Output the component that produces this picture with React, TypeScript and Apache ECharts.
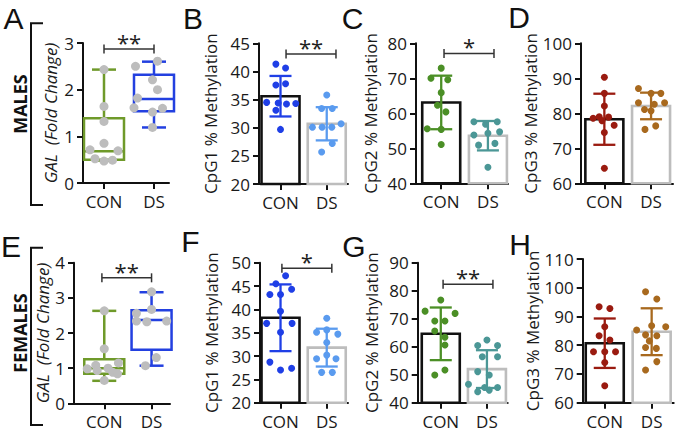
import React, { useEffect, useRef } from 'react';
import * as echarts from 'echarts';

const groups = ['CON', 'DS'];
const FONT = '"Open Sans", "Noto Sans", sans-serif';
const LETTER_FONT = '"Liberation Sans", Arial, sans-serif';

// ---------- A: males, GAL fold change (box: min, Q1, median, Q3, max) ----------
const maleGalConBox = [0.48, 0.5, 0.68, 1.39, 2.43];
const maleGalDsBox = [1.19, 1.54, 1.8, 2.32, 2.6];
const maleGalConPts = [2.43, 1.64, 1.32, 0.85, 0.71, 0.69, 0.52, 0.47, 0.49];
const maleGalConJit = [0, 0, 0, 0, -0.28, 0.28, -0.18, 0, 0.17];
const maleGalDsPts = [2.61, 2.5, 2.21, 2.0, 1.82, 1.61, 1.6, 1.52, 1.19];
const maleGalDsJit = [0.07, -0.37, -0.03, 0.07, -0.33, -0.4, 0.17, -0.03, -0.03];
const maleGalSig = [0, 1, 2.87];

// ---------- E: females, GAL fold change ----------
const femaleGalConBox = [0.64, 0.84, 1.0, 1.25, 2.63];
const femaleGalDsBox = [1.07, 1.52, 2.37, 2.65, 3.16];
const femaleGalConPts = [2.63, 1.55, 1.15, 1.08, 1.0, 0.98, 0.93, 0.88, 0.84, 0.65];
const femaleGalConJit = [0, 0, 0.3, -0.18, 0.08, -0.36, -0.15, 0.18, 0.28, 0];
const femaleGalDsPts = [3.17, 2.67, 2.56, 2.34, 2.32, 2.34, 1.3, 1.07];
const femaleGalDsJit = [0, 0, -0.32, -0.32, -0.1, 0.32, 0.1, -0.13];
const femaleGalSig = [-0.05, 1, 3.57];

// ---------- B: males CpG1 ----------
const maleCpg1Mean = [35.6, 30.7];
const maleCpg1Sd = [3.6, 2.95];
const maleCpg1ConPts = [41.3, 40.6, 37.8, 37.6, 34.5, 34.4, 34.3, 34.2, 33.1, 29.7];
const maleCpg1ConJit = [-0.1, 0.11, 0.11, -0.1, -0.3, -0.05, 0.33, 0.13, -0.1, 0];
const maleCpg1DsPts = [35.8, 33.4, 33.4, 30.7, 30.1, 30.1, 30.1, 27.2, 25.7];
const maleCpg1DsJit = [0, -0.11, 0.12, 0.31, -0.31, -0.1, 0.11, 0.12, -0.11];
const maleCpg1Sig = [0.12, 1.2, 43.1];

// ---------- C: males CpG2 ----------
const maleCpg2Mean = [63.1, 53.6];
const maleCpg2Sd = [7.65, 4.2];
const maleCpg2ConPts = [72.9, 70.0, 69.6, 65.9, 62.3, 60.4, 55.6, 55.4, 51.1];
const maleCpg2ConJit = [0, -0.22, 0.14, 0, -0.08, 0.1, -0.3, 0, 0];
const maleCpg2DsPts = [57.6, 56.9, 57.6, 53.8, 54.3, 54.7, 50.9, 51.4, 44.6];
const maleCpg2DsJit = [-0.3, -0.05, 0.2, -0.3, 0, 0.25, -0.2, 0.15, 0];
const maleCpg2Sig = [0.06, 1.13, 77.1];

// ---------- D: males CpG3 ----------
const maleCpg3Mean = [78.3, 82.1];
const maleCpg3Sd = [7.3, 3.8];
const maleCpg3ConPts = [90.3, 85.7, 82.1, 78.6, 79.0, 78.9, 77.9, 76.6, 74.5, 64.3];
const maleCpg3ConJit = [0, 0, 0, -0.24, -0.11, 0.09, -0.05, 0.21, 0, 0];
const maleCpg3DsPts = [87.1, 85.7, 85.7, 83.0, 82.6, 83.0, 81.1, 80.7, 75.4, 76.4];
const maleCpg3DsJit = [-0.27, 0, 0.21, -0.27, 0.07, 0.29, -0.14, 0, -0.13, 0.1];

// ---------- F: females CpG1 ----------
const femaleCpg1Mean = [38.2, 31.8];
const femaleCpg1Sd = [7.15, 4.05];
const femaleCpg1ConPts = [47.2, 45.5, 44.3, 43.2, 43.2, 39.6, 37.0, 37.0, 35.1, 28.7, 27.0, 27.4];
const femaleCpg1ConJit = [0.11, -0.1, 0.24, -0.23, 0, 0, -0.3, 0.25, 0, -0.23, 0, 0.24];
const femaleCpg1DsPts = [38.1, 35.1, 35.6, 34.7, 32.9, 29.4, 30.2, 29.4, 26.5, 26.5];
const femaleCpg1DsJit = [0, -0.22, 0, 0.24, 0, -0.22, 0, 0.2, -0.11, 0.12];
const femaleCpg1Sig = [0.03, 1.11, 48.8];

// ---------- G: females CpG2 ----------
const femaleCpg2Mean = [64.6, 52.0];
const femaleCpg2Sd = [9.4, 6.75];
const femaleCpg2ConPts = [76.7, 72.7, 71.9, 69.2, 69.2, 65.6, 63.4, 60.6, 51.7, 49.9];
const femaleCpg2ConJit = [0, -0.34, 0.31, -0.13, 0.09, -0.13, 0.09, 0.09, 0.09, -0.13];
const femaleCpg2DsPts = [62.4, 60.4, 60.4, 56.4, 56.4, 51.1, 49.9, 46.6, 45.4, 45.4, 43.9, 44.5];
const femaleCpg2DsJit = [0, -0.2, 0.23, -0.1, 0.23, -0.2, 0.05, -0.4, -0.05, 0.23, -0.2, 0.05];
const femaleCpg2Sig = [0.05, 1.13, 82.3];

// ---------- H: females CpG3 ----------
const femaleCpg3Mean = [80.7, 84.7];
const femaleCpg3Sd = [8.6, 8.15];
const femaleCpg3ConPts = [93.4, 92.8, 86.4, 83.3, 81.8, 77.7, 77.7, 77.7, 74.0, 65.9];
const femaleCpg3ConJit = [-0.12, 0.11, 0, -0.12, 0.11, -0.24, 0, 0.23, 0, 0];
const femaleCpg3DsPts = [98.6, 96.1, 85.3, 86.8, 86.4, 83.6, 83.3, 81.5, 79.2, 78.9, 74.3, 71.4];
const femaleCpg3DsJit = [-0.13, 0.11, -0.32, 0, 0.3, -0.13, 0.11, -0.05, -0.13, 0.1, 0.11, -0.13];

// ---------- styles ----------
const OLIVE = '#6f9a2a';
const BOXBLUE = '#2340e0';
const GRAY = '#bdbdbd';
const INK = '#111111';
const C1 = ['#1f3fe6', '#5a9bef'];
const C2 = ['#4b8f26', '#4b9796'];
const C3 = ['#9a1b10', '#a8691e'];
const BAR_STROKE = [INK, '#bdbdbd'];

type Panel = {
  kind: 'box' | 'bar';
  left: number; top: number; width: number; height: number;
  xMin: number; xMax: number; yMin: number; yMax: number; step: number;
  name: string; italic?: boolean; nameGap: number;
  boxes?: number[][]; boxColors?: string[];
  mean?: number[]; sd?: number[];
  pts: number[][]; jit: number[][]; dotColors: string[];
  sig?: number[]; sigLabel?: string;
};

const panels: Panel[] = [
  { kind: 'box', left: 83, top: 43, width: 86, height: 140, xMin: -0.42, xMax: 1.3, yMin: 0, yMax: 3, step: 1,
    name: 'GAL  (Fold Change)', italic: true, nameGap: 24, boxes: [maleGalConBox, maleGalDsBox], boxColors: [OLIVE, BOXBLUE],
    pts: [maleGalConPts, maleGalDsPts], jit: [maleGalConJit, maleGalDsJit], dotColors: [GRAY, GRAY], sig: maleGalSig, sigLabel: '**' },
  { kind: 'bar', left: 259, top: 43.3, width: 89, height: 140.7, xMin: -0.465, xMax: 1.46, yMin: 20, yMax: 45, step: 5,
    name: 'CpG1 % Methylation', nameGap: 40, mean: maleCpg1Mean, sd: maleCpg1Sd,
    pts: [maleCpg1ConPts, maleCpg1DsPts], jit: [maleCpg1ConJit, maleCpg1DsJit], dotColors: C1, sig: maleCpg1Sig, sigLabel: '**' },
  { kind: 'bar', left: 416, top: 43.3, width: 92, height: 140, xMin: -0.54, xMax: 1.43, yMin: 40, yMax: 80, step: 10,
    name: 'CpG2 % Methylation', nameGap: 37, mean: maleCpg2Mean, sd: maleCpg2Sd,
    pts: [maleCpg2ConPts, maleCpg2DsPts], jit: [maleCpg2ConJit, maleCpg2DsJit], dotColors: C2, sig: maleCpg2Sig, sigLabel: '*' },
  { kind: 'bar', left: 581, top: 43.3, width: 92, height: 140, xMin: -0.5, xMax: 1.47, yMin: 60, yMax: 100, step: 10,
    name: 'CpG3 % Methylation', nameGap: 37, mean: maleCpg3Mean, sd: maleCpg3Sd,
    pts: [maleCpg3ConPts, maleCpg3DsPts], jit: [maleCpg3ConJit, maleCpg3DsJit], dotColors: C3 },
  { kind: 'box', left: 74, top: 262.7, width: 96, height: 140.6, xMin: -0.64, xMax: 1.39, yMin: 0, yMax: 4, step: 1,
    name: 'GAL  (Fold Change)', italic: true, nameGap: 17, boxes: [femaleGalConBox, femaleGalDsBox], boxColors: [OLIVE, BOXBLUE],
    pts: [femaleGalConPts, femaleGalDsPts], jit: [femaleGalConJit, femaleGalDsJit], dotColors: [GRAY, GRAY], sig: femaleGalSig, sigLabel: '**' },
  { kind: 'bar', left: 260, top: 262.7, width: 88, height: 140, xMin: -0.444, xMax: 1.46, yMin: 20, yMax: 50, step: 5,
    name: 'CpG1 % Methylation', nameGap: 40, mean: femaleCpg1Mean, sd: femaleCpg1Sd,
    pts: [femaleCpg1ConPts, femaleCpg1DsPts], jit: [femaleCpg1ConJit, femaleCpg1DsJit], dotColors: C1, sig: femaleCpg1Sig, sigLabel: '*' },
  { kind: 'bar', left: 417.7, top: 262.7, width: 90, height: 140, xMin: -0.5, xMax: 1.45, yMin: 40, yMax: 90, step: 10,
    name: 'CpG2 % Methylation', nameGap: 38, mean: femaleCpg2Mean, sd: femaleCpg2Sd,
    pts: [femaleCpg2ConPts, femaleCpg2DsPts], jit: [femaleCpg2ConJit, femaleCpg2DsJit], dotColors: C2, sig: femaleCpg2Sig, sigLabel: '**' },
  { kind: 'bar', left: 582.7, top: 259, width: 91, height: 143.7, xMin: -0.47, xMax: 1.47, yMin: 60, yMax: 110, step: 10,
    name: 'CpG3 % Methylation', nameGap: 38, mean: femaleCpg3Mean, sd: femaleCpg3Sd,
    pts: [femaleCpg3ConPts, femaleCpg3DsPts], jit: [femaleCpg3ConJit, femaleCpg3DsJit], dotColors: C3 },
];

function buildOption() {
  const grid: any[] = [];
  const xAxis: any[] = [];
  const yAxis: any[] = [];
  const series: any[] = [];
  const axisLine = { show: true, onZero: false, lineStyle: { color: INK, width: 2 } };
  const axisTick = { show: true, length: 6, lineStyle: { color: INK, width: 2 } };

  panels.forEach((p, i) => {
    grid.push({ left: p.left, top: p.top, width: p.width, height: p.height });
    xAxis.push({
      type: 'value', gridIndex: i, min: p.xMin, max: p.xMax,
      splitLine: { show: false }, axisLine,
      axisTick: { ...axisTick, customValues: [0, 1] },
      axisLabel: {
        customValues: [0, 1], formatter: (v: number) => groups[Math.round(v)] ?? '',
        fontSize: 17, color: '#1a1a1a', fontFamily: FONT, margin: 10,
      },
    });
    yAxis.push({
      type: 'value', gridIndex: i, min: p.yMin, max: p.yMax, interval: p.step,
      splitLine: { show: false }, axisLine, axisTick,
      axisLabel: { fontSize: 17, color: '#1a1a1a', fontFamily: FONT, margin: 9 },
      name: p.name, nameLocation: 'middle', nameRotate: 90, nameGap: p.nameGap,
      nameTextStyle: {
        fontSize: 17, fontStyle: p.italic ? 'italic' : 'normal',
        color: '#1a1a1a', fontFamily: FONT,
      },
    });

    if (p.kind === 'bar') {
      const mean = p.mean!, sd = p.sd!;
      series.push({
        type: 'custom', xAxisIndex: i, yAxisIndex: i, z: 2, silent: true,
        data: mean.map((m, g) => [g, m, sd[g]]),
        renderItem: (params: any, api: any) => {
          const g = api.value(0), m = api.value(1);
          const tl = api.coord([g, m]);
          const base = api.coord([g, p.yMin]);
          const half = 19;
          return {
            type: 'rect',
            shape: { x: tl[0] - half, y: tl[1], width: half * 2, height: base[1] - tl[1] },
            style: { fill: '#ffffff', stroke: BAR_STROKE[params.dataIndex], lineWidth: 2.6 },
          };
        },
      });
    } else {
      const boxes = p.boxes!;
      series.push({
        type: 'custom', xAxisIndex: i, yAxisIndex: i, z: 2, silent: true,
        data: boxes.map((b, g) => [g, ...b]),
        renderItem: (params: any, api: any) => {
          const g = api.value(0);
          const mn = api.coord([g, api.value(1)]);
          const q1 = api.coord([g, api.value(2)]);
          const md = api.coord([g, api.value(3)]);
          const q3 = api.coord([g, api.value(4)]);
          const mx = api.coord([g, api.value(5)]);
          const cx = mn[0];
          const half = 20, cap = 12;
          const st = { stroke: p.boxColors![params.dataIndex], lineWidth: 2.5, fill: 'none' };
          return {
            type: 'group',
            children: [
              { type: 'rect', shape: { x: cx - half, y: q3[1], width: half * 2, height: q1[1] - q3[1] }, style: st },
              { type: 'line', shape: { x1: cx - half, y1: md[1], x2: cx + half, y2: md[1] }, style: st },
              { type: 'line', shape: { x1: cx, y1: q3[1], x2: cx, y2: mx[1] }, style: st },
              { type: 'line', shape: { x1: cx, y1: q1[1], x2: cx, y2: mn[1] }, style: st },
              { type: 'line', shape: { x1: cx - cap, y1: mx[1], x2: cx + cap, y2: mx[1] }, style: st },
              { type: 'line', shape: { x1: cx - cap, y1: mn[1], x2: cx + cap, y2: mn[1] }, style: st },
            ],
          };
        },
      });
    }

    p.pts.forEach((vals, g) => {
      series.push({
        type: 'scatter', xAxisIndex: i, yAxisIndex: i, z: 3, silent: true,
        symbol: 'circle', symbolSize: p.kind === 'box' ? 9 : 7,
        itemStyle: { color: p.dotColors[g], opacity: 1 },
        data: vals.map((v, k) => [g + p.jit[g][k], v]),
      });
    });

    if (p.kind === 'bar') {
      const mean = p.mean!, sd = p.sd!;
      series.push({
        type: 'custom', xAxisIndex: i, yAxisIndex: i, z: 4, silent: true,
        data: mean.map((m, g) => [g, m, sd[g]]),
        renderItem: (params: any, api: any) => {
          const g = api.value(0), m = api.value(1), s = api.value(2);
          const top = api.coord([g, m + s]);
          const bot = api.coord([g, m - s]);
          const cw = 11;
          const st = { stroke: p.dotColors[params.dataIndex], lineWidth: 2.3 };
          return {
            type: 'group',
            children: [
              { type: 'line', shape: { x1: top[0], y1: top[1], x2: bot[0], y2: bot[1] }, style: st },
              { type: 'line', shape: { x1: top[0] - cw, y1: top[1], x2: top[0] + cw, y2: top[1] }, style: st },
              { type: 'line', shape: { x1: bot[0] - cw, y1: bot[1], x2: bot[0] + cw, y2: bot[1] }, style: st },
            ],
          };
        },
      });
    }

    if (p.sig) {
      const label = p.sigLabel!;
      series.push({
        type: 'custom', xAxisIndex: i, yAxisIndex: i, z: 5, silent: true,
        data: [p.sig],
        renderItem: (params: any, api: any) => {
          const a = api.coord([api.value(0), api.value(2)]);
          const b = api.coord([api.value(1), api.value(2)]);
          const st = { stroke: '#333333', lineWidth: 1.5 };
          return {
            type: 'group',
            children: [
              { type: 'line', shape: { x1: a[0], y1: a[1], x2: b[0], y2: b[1] }, style: st },
              { type: 'line', shape: { x1: a[0], y1: a[1] - 4.5, x2: a[0], y2: a[1] + 4.5 }, style: st },
              { type: 'line', shape: { x1: b[0], y1: b[1] - 4.5, x2: b[0], y2: b[1] + 4.5 }, style: st },
              {
                type: 'text',
                style: {
                  text: label, x: (a[0] + b[0]) / 2, y: a[1] + 4,
                  align: 'center', verticalAlign: 'bottom',
                  font: `22px ${FONT}`, fill: '#222222',
                },
              },
            ],
          };
        },
      });
    }
  });

  const letter = (t: string, x: number, y: number) => ({
    type: 'text', x, y,
    style: { text: t, font: `30px ${LETTER_FONT}`, fill: INK, align: 'center', verticalAlign: 'middle' },
  });

  const graphic = [
    letter('A', 13.5, 18.3), letter('B', 193, 18.3), letter('C', 352.5, 18.3), letter('D', 519, 17.8),
    letter('E', 11, 246.6), letter('F', 190.5, 241.6), letter('G', 354, 246.6), letter('H', 520, 244.6),
    {
      type: 'text', x: 20, y: 104, rotation: Math.PI / 2,
      style: { text: 'MALES', font: `bold 18px ${FONT}`, fill: INK, align: 'center', verticalAlign: 'middle' },
    },
    {
      type: 'text', x: 20, y: 333, rotation: Math.PI / 2,
      style: { text: 'FEMALES', font: `bold 18px ${FONT}`, fill: INK, align: 'center', verticalAlign: 'middle' },
    },
    {
      type: 'polyline', shape: { points: [[43, 23.3], [31, 23.3], [31, 205], [43, 205]] },
      style: { stroke: INK, lineWidth: 2, fill: 'none' },
    },
    {
      type: 'polyline', shape: { points: [[43, 247.7], [31, 247.7], [31, 425], [43, 425]] },
      style: { stroke: INK, lineWidth: 2, fill: 'none' },
    },
  ];

  return { animation: false, backgroundColor: '#ffffff', grid, xAxis, yAxis, series, graphic };
}

export default function App() {
  const ref = useRef<HTMLDivElement>(null);
  useEffect(() => {
    if (!ref.current) return;
    const chart = echarts.init(ref.current, undefined, { renderer: 'svg' });
    chart.setOption(buildOption() as any);
    return () => chart.dispose();
  }, []);
  return <div ref={ref} style={{ position: 'fixed', left: 0, top: 0, width: 677, height: 435 }} />;
}
